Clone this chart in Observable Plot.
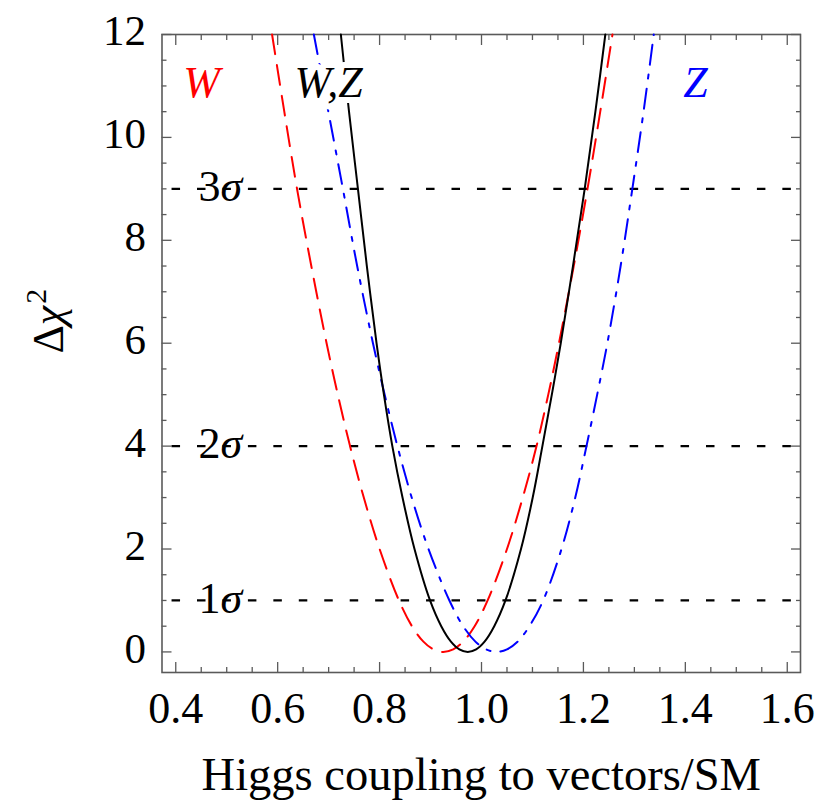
<!DOCTYPE html>
<html>
<head>
<meta charset="utf-8">
<script src="https://cdn.jsdelivr.net/npm/d3@7"></script>
<script src="https://cdn.jsdelivr.net/npm/@observablehq/plot@0.6"></script>
<style>
  html, body { margin: 0; padding: 0; background: #fff; }
  svg { display: block; }
</style>
</head>
<body>
<div id="chart"></div>
<script>
// Δχ² levels sampled along each curve (left branch, minimum, right branch)
const chi2 = [12, 10.5, 9, 7.5, 6, 5, 4, 3, 2, 1, 0.5, 0.2, 0.05, 0, 0.05, 0.2, 0.5, 1, 2, 3, 4, 5, 6, 7.5, 9, 10.5, 12];
// Higgs coupling values for each curve
const wX  = [0.589, 0.613, 0.638, 0.666, 0.696, 0.718, 0.742, 0.769, 0.800, 0.838, 0.8635, 0.886, 0.9055, 0.925, 0.9445, 0.964, 0.9865, 1.012, 1.050, 1.081, 1.108, 1.131, 1.152, 1.181, 1.208, 1.233, 1.257];
const wzX = [0.724, 0.740, 0.7575, 0.775, 0.794, 0.8085, 0.825, 0.845, 0.8685, 0.899, 0.921, 0.940, 0.9565, 0.973, 0.9895, 1.006, 1.025, 1.047, 1.0775, 1.1005, 1.1195, 1.138, 1.1555, 1.1795, 1.2025, 1.2235, 1.243];
const zX  = [0.671, 0.6995, 0.728, 0.756, 0.787, 0.810, 0.835, 0.863, 0.896, 0.937, 0.964, 0.988, 1.009, 1.030, 1.050, 1.071, 1.094, 1.121, 1.157, 1.184, 1.206, 1.227, 1.247, 1.273, 1.296, 1.318, 1.338];

// ticks
const xMajor = [0.4, 0.6, 0.8, 1.0, 1.2, 1.4, 1.6];
const xMinor = [0.45, 0.5, 0.55, 0.65, 0.7, 0.75, 0.85, 0.9, 0.95, 1.05, 1.1, 1.15, 1.25, 1.3, 1.35, 1.45, 1.5, 1.55];
const yMajor = [0, 2, 4, 6, 8, 10, 12];
const yMinor = [0.5, 1, 1.5, 2.5, 3, 3.5, 4.5, 5, 5.5, 6.5, 7, 7.5, 8.5, 9, 9.5, 10.5, 11, 11.5];

// significance lines
const sigmaLevels = [1, 4, 9];
const sigmaNames = ["1σ", "2σ", "3σ"];
const sigmaLabelX = [0.4446, 0.4446, 0.4446];

// series labels
const seriesNames = ["W", "W,Z", "Z"];
const seriesColors = ["#ff0000", "#000000", "#0000ff"];
const seriesLabelX = [0.4505, 0.700, 1.420];
const seriesLabelY = [11.05, 11.05, 11.05];

const xTitle = "Higgs coupling to vectors/SM";
const yTitle = "Δχ2";

const font = "'Liberation Serif', 'Times New Roman', serif";
const toPts = xs => xs.map((x, i) => ({x, y: chi2[i]}));
const wPts = toPts(wX), wzPts = toPts(wzX), zPts = toPts(zX);
const labels = seriesNames.map((t, i) => ({t, x: seriesLabelX[i], y: seriesLabelY[i], c: seriesColors[i]}));
const sigmas = sigmaLevels.map((v, i) => ({v, t: sigmaNames[i], x: sigmaLabelX[i]}));

const frameColor = "#5a5a5a";

const chart = Plot.plot({
  width: 822,
  height: 808,
  marginLeft: 161.5,
  marginRight: 22,
  marginTop: 34,
  marginBottom: 136,
  style: {fontFamily: font, fontSize: "44px", background: "#fff", color: "#000"},
  x: {domain: [0.373, 1.626]},
  y: {domain: [-0.4, 12]},
  marks: [
    // ticks (inward) on all four sides
    Plot.axisX(xMajor, {anchor: "bottom", tickSize: -10, tickFormat: () => "", label: null, stroke: frameColor, strokeWidth: 1.3}),
    Plot.axisX(xMinor, {anchor: "bottom", tickSize: -5, tickFormat: () => "", label: null, stroke: frameColor, strokeWidth: 1.3}),
    Plot.axisX(xMajor, {anchor: "top", tickSize: -10, tickFormat: () => "", label: null, stroke: frameColor, strokeWidth: 1.3}),
    Plot.axisX(xMinor, {anchor: "top", tickSize: -5, tickFormat: () => "", label: null, stroke: frameColor, strokeWidth: 1.3}),
    Plot.axisY(yMajor, {anchor: "left", tickSize: -10, tickFormat: () => "", label: null, stroke: frameColor, strokeWidth: 1.3}),
    Plot.axisY(yMinor, {anchor: "left", tickSize: -5, tickFormat: () => "", label: null, stroke: frameColor, strokeWidth: 1.3}),
    Plot.axisY(yMajor, {anchor: "right", tickSize: -10, tickFormat: () => "", label: null, stroke: frameColor, strokeWidth: 1.3}),
    Plot.axisY(yMinor, {anchor: "right", tickSize: -5, tickFormat: () => "", label: null, stroke: frameColor, strokeWidth: 1.3}),
    // tick labels
    Plot.axisX(xMajor, {anchor: "bottom", tickSize: 0, tickPadding: 19, tickFormat: d3.format(".1f"), label: null, fontSize: 44, fontFamily: font, fill: "#000"}),
    Plot.axisY(yMajor, {anchor: "left", tickSize: 0, tickPadding: 16, tickFormat: d => String(d), label: null, fontSize: 43, fontFamily: font, fill: "#000", dy: -3}),
    Plot.frame({stroke: frameColor, strokeWidth: 1.6}),
    // significance lines
    Plot.ruleY(sigmas, {y: "v", stroke: "#000", strokeWidth: 2.3, strokeDasharray: "8.5,16.95", strokeDashoffset: 15.4}),
    Plot.text(sigmas, {x: "x", y: "v", text: "t", textAnchor: "start", fontSize: 44, fontFamily: font, fill: "#000", dy: -2}),
    // curves
    Plot.line(wPts, {x: "x", y: "y", stroke: "#ff0000", strokeWidth: 2, strokeDasharray: "20,11", curve: "catmull-rom"}),
    Plot.line(zPts, {x: "x", y: "y", stroke: "#0000ff", strokeWidth: 2, strokeDasharray: "20,10,4,10", curve: "catmull-rom"}),
    Plot.line(wzPts, {x: "x", y: "y", stroke: "#000000", strokeWidth: 2, curve: "catmull-rom"}),
    // series labels
    Plot.text(labels, {x: "x", y: "y", text: "t", fill: "c", stroke: "#fff", strokeWidth: 12, fontSize: 44, fontFamily: font, fontStyle: "italic"}),
    // axis titles
    Plot.text([xTitle], {frameAnchor: "bottom", text: d => d, dy: 117, fontSize: 46.5, fontFamily: font, fill: "#000"}),
    Plot.text([yTitle], {frameAnchor: "left", text: d => d, rotate: -90, dx: -113.5, fontSize: 44, fontFamily: font, fill: "#000"})
  ]
});

// rich-text touches: italic sigma / chi and superscript
d3.select(chart).selectAll("text").each(function() {
  const el = d3.select(this);
  const t = this.textContent;
  const m = /^(\d)σ$/.exec(t);
  if (m && this.childElementCount === 0) {
    el.text(null);
    el.append("tspan").text(m[1]);
    el.append("tspan").attr("font-style", "italic").text("σ");
  } else if (t === yTitle && this.childElementCount === 0) {
    el.text(null);
    el.append("tspan").text("Δ");
    el.append("tspan").attr("font-style", "italic").text("χ");
    el.append("tspan").attr("font-size", "30px").attr("dy", "-0.55em").attr("dx", "2").text("2");
  }
});
d3.select(chart).selectAll("text").filter(function() { return seriesNames.includes(this.textContent); })
  .attr("paint-order", "stroke");

document.getElementById("chart").appendChild(chart);
</script>
</body>
</html>
